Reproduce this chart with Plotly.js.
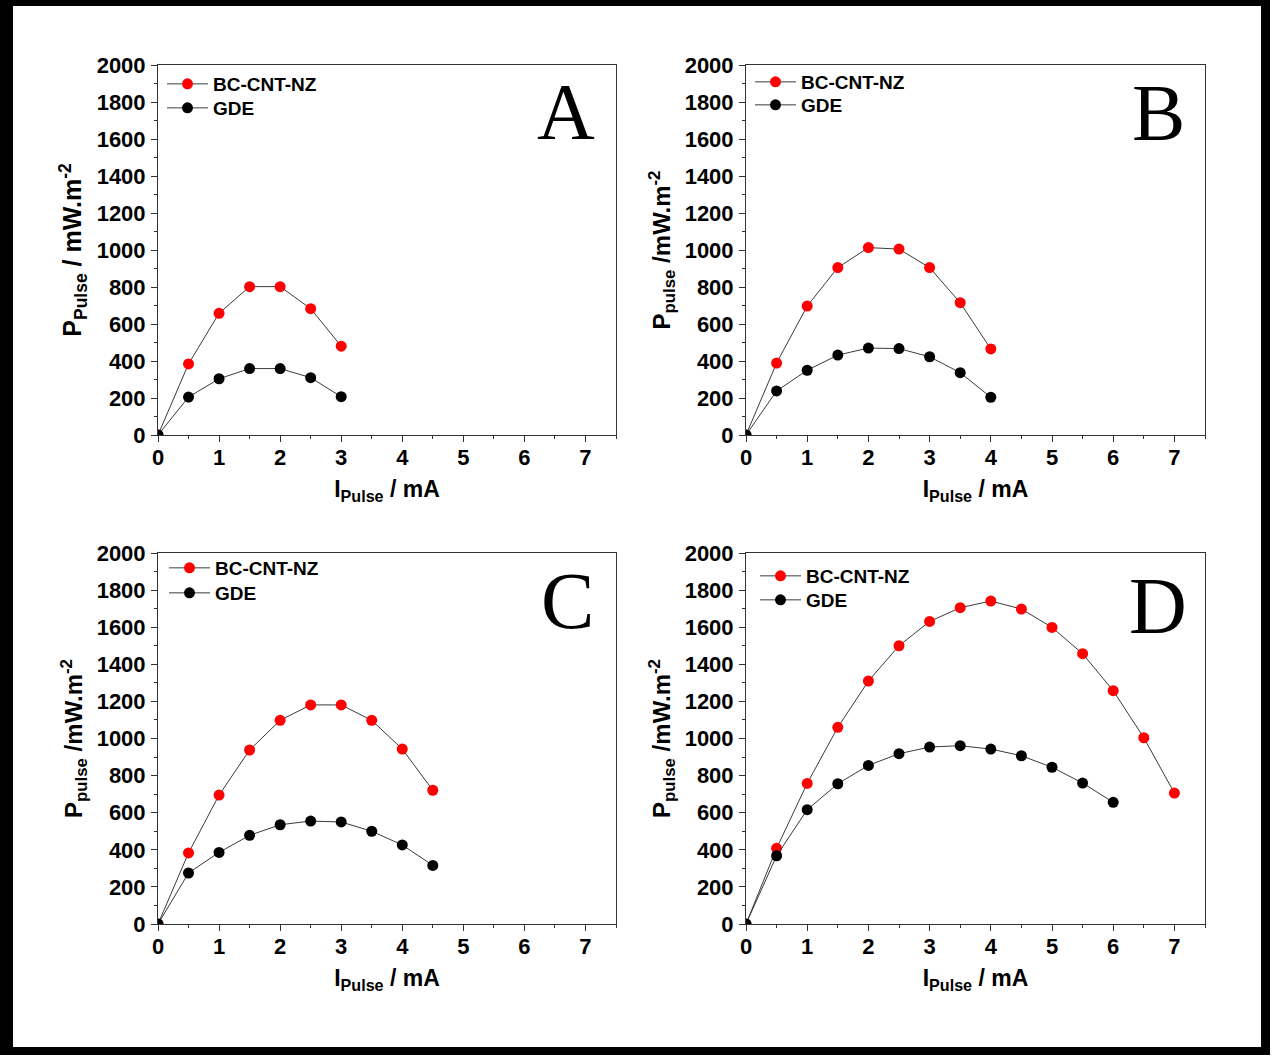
<!DOCTYPE html>
<html><head><meta charset="utf-8">
<script src="https://cdn.plot.ly/plotly-3.0.1.min.js"></script>
<style>html,body{margin:0;padding:0;background:#fff;} #chart{width:1275px;height:1057px;}</style>
</head><body><div id="chart"></div>
<script>
// ---------- data ----------
const currentA = [0, 0.5, 1, 1.5, 2, 2.5, 3];
const bcA  = [0, 384, 658, 802, 802, 683, 480];
const gdeA = [0, 205, 304, 359, 359, 310, 207];

const currentB = [0, 0.5, 1, 1.5, 2, 2.5, 3, 3.5, 4];
const bcB  = [0, 389, 697, 905, 1013, 1005, 905, 715, 465];
const gdeB = [0, 238, 350, 432, 470, 467, 423, 337, 204];

const currentC = [0, 0.5, 1, 1.5, 2, 2.5, 3, 3.5, 4, 4.5];
const bcC  = [0, 383, 695, 938, 1098, 1181, 1181, 1098, 943, 721];
const gdeC = [0, 275, 386, 478, 535, 555, 550, 500, 426, 316];

const currentDbc  = [0, 0.5, 1, 1.5, 2, 2.5, 3, 3.5, 4, 4.5, 5, 5.5, 6, 6.5, 7];
const bcD  = [0, 408, 758, 1060, 1310, 1500, 1631, 1705, 1741, 1698, 1599, 1457, 1258, 1004, 706];
const currentDgde = [0, 0.5, 1, 1.5, 2, 2.5, 3, 3.5, 4, 4.5, 5, 5.5, 6];
const gdeD = [0, 368, 616, 756, 855, 918, 954, 961, 943, 907, 845, 760, 656];

const seriesNames = ['BC-CNT-NZ', 'GDE'];
const panelLetters = ['A', 'B', 'C', 'D'];
const xTickVals = [0, 1, 2, 3, 4, 5, 6, 7];
const yTickVals = [0, 200, 400, 600, 800, 1000, 1200, 1400, 1600, 1800, 2000];
const xTitle = 'I<sub>Pulse</sub> / mA';
const yTitles = ['P<sub>Pulse</sub> / mW.m<sup>-2</sup>', 'P<sub>pulse</sub> /mW.m<sup>-2</sup>',
                 'P<sub>pulse</sub> /mW.m<sup>-2</sup>', 'P<sub>pulse</sub> /mW.m<sup>-2</sup>'];

// ---------- layout helpers ----------
const W = 1275, H = 1057;
const FONT = 'Arial, "Liberation Sans", sans-serif';
const px = v => v / W, py = v => 1 - v / H;
const panels = [
  {x: [158, 616], y: [65, 435], legX: 162, legY: [84, 108], letter: [566, 112], ytSize: 25},
  {x: [746, 1205], y: [65, 435], legX: 750, legY: [82, 105], letter: [1158, 113], ytSize: 24},
  {x: [158, 616], y: [553, 924], legX: 164, legY: [568, 593], letter: [567, 601], ytSize: 24},
  {x: [746, 1205], y: [553, 924], legX: 755, legY: [576, 600], letter: [1158, 606], ytSize: 24}
];
const datasets = [
  [[currentA, bcA], [currentA, gdeA]],
  [[currentB, bcB], [currentB, gdeB]],
  [[currentC, bcC], [currentC, gdeC]],
  [[currentDbc, bcD], [currentDgde, gdeD]]
];
const markerColors = ['#ff0000', '#000000'];

const traces = [];
const layout = {
  width: W, height: H, margin: {l: 0, r: 0, t: 0, b: 0},
  paper_bgcolor: '#fff', plot_bgcolor: '#fff', showlegend: true,
  font: {family: FONT, color: '#000'},
  annotations: [], shapes: []
};

let legCount = 0;
panels.forEach((p, i) => {
  const k = i === 0 ? '' : String(i + 1);
  datasets[i].forEach((d, j) => {
    legCount += 1;
    const legKey = legCount === 1 ? 'legend' : 'legend' + legCount;
    traces.push({
      x: d[0], y: d[1], type: 'scatter', mode: 'lines+markers',
      name: seriesNames[j], xaxis: 'x' + k, yaxis: 'y' + k, legend: legKey,
      line: {color: '#3a3a3a', width: 1},
      marker: {color: markerColors[j], size: 11},
      cliponaxis: true
    });
    layout[legKey] = {
      x: px(p.legX), y: py(p.legY[j]), xanchor: 'left', yanchor: 'middle',
      bgcolor: 'rgba(0,0,0,0)', borderwidth: 0, itemwidth: 41,
      font: {family: FONT, size: 19, color: '#000', weight: 'bold'}
    };
  });
  layout['xaxis' + k] = {
    domain: [px(p.x[0]), px(p.x[1])], anchor: 'y' + k, range: [0, 7.5],
    tickmode: 'array', tickvals: xTickVals, ticktext: xTickVals.map(String),
    ticks: 'outside', ticklen: 6, tickwidth: 1, tickcolor: '#333',
    showline: true, linecolor: '#333', linewidth: 1, mirror: true,
    showgrid: false, zeroline: false, ticklabelstandoff: -3,
    tickfont: {family: FONT, size: 22, color: '#000', weight: 'bold'},
    minor: {ticks: 'outside', ticklen: 3, tick0: 0, dtick: 0.5, tickcolor: '#333', showgrid: false},
    title: {text: xTitle, standoff: 11, font: {family: FONT, size: 23, color: '#000', weight: 'bold'}},
    fixedrange: true
  };
  layout['yaxis' + k] = {
    domain: [py(p.y[1]), py(p.y[0])], anchor: 'x' + k, range: [0, 2000],
    tickmode: 'array', tickvals: yTickVals, ticktext: yTickVals.map(String),
    ticks: 'outside', ticklen: 6, tickwidth: 1, tickcolor: '#333',
    showline: true, linecolor: '#333', linewidth: 1, mirror: true,
    showgrid: false, zeroline: false, ticklabelstandoff: 1,
    tickfont: {family: FONT, size: 22, color: '#000', weight: 'bold'},
    minor: {ticks: 'outside', ticklen: 3, tick0: 0, dtick: 100, tickcolor: '#333', showgrid: false},
    title: {text: yTitles[i], standoff: 7, font: {family: FONT, size: p.ytSize, color: '#000', weight: 'bold'}},
    fixedrange: true
  };
  layout.annotations.push({
    text: panelLetters[i], xref: 'paper', yref: 'paper',
    x: px(p.letter[0]), y: py(p.letter[1]), xanchor: 'center', yanchor: 'middle',
    showarrow: false, font: {family: '"Liberation Serif", "Times New Roman", serif', size: 80, color: '#000'}
  });
});

// outer black frame
const frame = [[0, 0, 13, 1055], [0, 0, 1270, 6], [1261, 0, 1270, 1055], [0, 1047, 1270, 1055]];
frame.forEach(f => layout.shapes.push({
  type: 'rect', xref: 'paper', yref: 'paper', layer: 'above',
  x0: px(f[0]), x1: px(f[2]), y0: py(f[3]), y1: py(f[1]),
  fillcolor: '#000', line: {width: 0}
}));

Plotly.newPlot('chart', traces, layout, {displayModeBar: false, staticPlot: true});
</script>
</body></html>
